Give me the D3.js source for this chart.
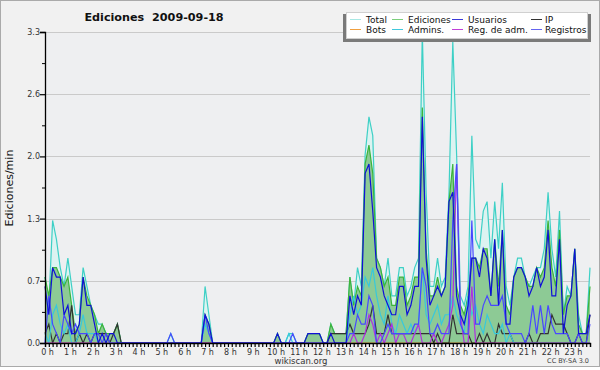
<!DOCTYPE html>
<html>
<head>
<meta charset="utf-8">
<script src="https://cdnjs.cloudflare.com/ajax/libs/d3/7.8.5/d3.min.js"></script>
<style>
body { margin: 0; background: #fff; }
svg { display: block; }
text { font-family: "DejaVu Sans", sans-serif; }
</style>
</head>
<body>
<div id="chart"></div>
<script>
// edits per minute, one value per 10 minutes (144 bins)
var total = [
  0.7,0.4,1.3,1.1,0.8,0.6, 0.9,0.6,0.3,0.3,0.8,0.6, 0.4,0.3,0.2,0.2,0.1,0.1, 0.1,0.2,0,0,0,0,
  0,0,0,0,0,0, 0,0,0,0.1,0,0, 0,0,0,0,0,0, 0.6,0.3,0,0,0,0,
  0,0,0,0,0,0, 0,0,0,0,0,0, 0,0.1,0,0,0.1,0.1, 0,0,0,0.1,0.1,0.1,
  0.1,0,0,0.2,0.1,0.1, 0.1,0.1,0.7,0.4,0.8,0.6, 2.0,2.4,2.2,0.9,0.8,0.6, 0.9,0.5,0.5,0.8,0.8,0.5,
  0.6,0.8,0.9,3.3,1.6,0.6, 0.6,0.9,0.6,0.7,1.6,3.2, 2.0,0.5,0.4,0.6,2.2,1.1, 1.0,1.4,1.5,0.9,1.5,1.0,
  1.7,0.6,0.4,0.7,0.9,0.9, 0.7,0.6,0.7,0.8,0.8,1.0, 1.6,1.0,0.7,1.4,0.3,0.6, 0.5,1.0,0.3,0.1,0.1,0.8
];
var ediciones = [
  0.7,0.5,0.8,0.8,0.7,0.6, 0.7,0.4,0.1,0.2,0.7,0.5, 0.4,0.3,0.1,0.2,0.1,0.1, 0.1,0.2,0,0,0,0,
  0,0,0,0,0,0, 0,0,0,0,0,0, 0,0,0,0,0,0, 0.3,0.2,0,0,0,0,
  0,0,0,0,0,0, 0,0,0,0,0,0, 0,0.1,0,0,0,0, 0,0,0,0.1,0.1,0.1,
  0.1,0,0,0.2,0.1,0.1, 0.1,0.1,0.7,0.4,0.6,0.5, 1.9,2.1,1.8,0.9,0.8,0.6, 0.7,0.4,0.4,0.7,0.7,0.4,
  0.5,0.7,0.7,2.5,1.0,0.5, 0.5,0.7,0.5,0.6,1.5,1.9, 0.6,0.4,0.3,0.5,0.9,0.9, 0.8,1.0,1.0,0.5,1.1,0.6,
  1.2,0.4,0.3,0.7,0.8,0.8, 0.7,0.6,0.6,0.8,0.7,0.8, 1.3,0.8,0.6,1.2,0.3,0.5, 0.5,1.0,0.2,0.1,0.1,0.6
];
var usuarios = [
  0.6,0.3,0.8,0.7,0.7,0.3, 0.4,0.1,0.1,0.2,0.7,0.4, 0.4,0.2,0,0.1,0,0.1, 0.1,0,0,0,0,0,
  0,0,0,0,0,0, 0,0,0,0,0,0, 0,0,0,0,0,0, 0.3,0.2,0,0,0,0,
  0,0,0,0,0,0, 0,0,0,0,0,0, 0,0.1,0,0,0,0, 0,0,0,0.1,0.1,0.1,
  0.1,0,0,0.1,0,0, 0,0,0.5,0.3,0.5,0.4, 1.8,1.9,1.4,0.8,0.7,0.5, 0.4,0.3,0.3,0.6,0.6,0.3,
  0.4,0.6,0.6,2.4,0.9,0.4, 0.5,0.6,0.5,0.6,1.5,1.6, 0.5,0.3,0.2,0.4,0.9,0.9, 0.7,1.0,0.9,0.5,1.1,0.4,
  1.2,0.2,0.2,0.7,0.8,0.8, 0.7,0.5,0.6,0.8,0.6,0.7, 1.2,0.5,0.5,1.1,0.1,0.4, 0.5,1.0,0.1,0.1,0.1,0.3
];
var ip = [
  0.1,0.2,0,0.1,0,0.1, 0.1,0.4,0,0.1,0,0.1, 0,0.1,0.1,0.1,0.1,0, 0.1,0.2,0,0,0,0,
  0,0,0,0,0,0, 0,0,0,0,0,0, 0,0,0,0,0,0, 0,0,0,0,0,0,
  0,0,0,0,0,0, 0,0,0,0,0,0, 0,0,0,0,0,0, 0,0,0,0,0,0,
  0,0,0,0.1,0.1,0.1, 0.1,0.1,0.2,0.1,0.1,0.1, 0.1,0.2,0.4,0.1,0.1,0.1, 0.3,0.1,0.1,0.1,0.1,0.1,
  0.1,0.1,0.1,0.1,0.1,0.1, 0,0.1,0,0,0,0.3, 0.1,0.1,0.1,0.1,0,0, 0.1,0,0.1,0,0,0.2,
  0.1,0.1,0.1,0,0,0, 0,0.1,0,0,0.1,0.1, 0.1,0.3,0.2,0.2,0.2,0.1, 0,0,0.1,0,0,0.3
];
var bots = d3.range(144).map(function() { return 0; });
var admins = [
  0.1,0,0.3,0.4,0.2,0.1, 0.2,0,0,0.1,0.3,0.1, 0.1,0.1,0,0,0,0, 0,0,0,0,0,0,
  0,0,0,0,0,0, 0,0,0,0,0,0, 0,0,0,0,0,0, 0.2,0.1,0,0,0,0,
  0,0,0,0,0,0, 0,0,0,0,0,0, 0,0,0,0,0.1,0, 0,0,0,0,0,0,
  0,0,0,0,0,0, 0,0,0.3,0.5,0.3,0.4, 0.7,0.6,0.8,0.5,0.3,0.2, 0.5,0.2,0.1,0.3,0.2,0.1,
  0.2,0.1,0.2,0.8,0.3,0.2, 0.3,0.4,0.2,0.3,0.3,0.5, 0.3,0.2,0.1,0.5,0.3,0.4, 0.2,0.1,0.3,0.2,0.1,0.1,
  0.2,0,0.1,0,0,0, 0,0,0,0,0,0, 0,0,0,0,0,0, 0,0,0,0,0,0
];
var regAdm = [
  0,0,0,0,0,0, 0,0,0,0,0,0, 0,0,0,0,0,0, 0,0,0,0,0,0,
  0,0,0,0,0,0, 0,0,0,0,0,0, 0,0,0,0,0,0, 0,0,0,0,0,0,
  0,0,0,0,0,0, 0,0,0,0,0,0, 0,0,0,0,0,0, 0,0,0,0,0,0,
  0,0,0,0,0,0, 0,0,0,0.1,0,0, 0.1,0.3,0.2,0,0.1,0, 0.1,0.2,0,0.1,0.1,0,
  0,0.1,0.2,0,0,0, 0.1,0,0,0.1,0.2,0.4, 1.9,0.3,0,0,0.6,0, 0,0,0,0,0,0,
  0,0,0,0,0,0, 0,0,0,0,0,0, 0,0,0,0,0,0, 0,0,0,0,0,0
];
var registros = [
  0,0.5,0.2,0.1,0,0.3, 0.2,0.1,0.2,0.1,0.1,0.1, 0,0.1,0.1,0,0.1,0, 0,0,0,0,0,0,
  0,0,0,0,0,0, 0,0,0,0.1,0,0, 0,0,0,0,0,0, 0.3,0.1,0,0,0,0,
  0,0,0,0,0,0, 0,0,0,0,0,0, 0,0,0,0,0,0.1, 0,0,0,0,0,0,
  0,0,0,0,0,0, 0,0,0.1,0.1,0.3,0.2, 0.2,0.5,0.4,0,0,0.1, 0.2,0.1,0.1,0.1,0.1,0.1,
  0.1,0.2,0.2,0.8,0.6,0.1, 0.1,0.2,0.1,0.1,0.1,1.3, 1.9,0.2,0.1,0.1,1.3,0.2, 0.2,0.4,0.5,0.4,0.4,0.4,
  0.5,0.2,0.1,0.1,0.1,0.1, 0,0.1,0.4,0.1,0.4,0.1, 0.4,0.2,0.1,0.1,0.1,0.1, 0,0,0.1,0,0,0.2
];
var yTicks = [0, 0.66, 1.32, 1.98, 2.64, 3.3];
var legendNames = ["Total", "Ediciones", "Usuarios", "IP", "Bots", "Admins.", "Reg. de adm.", "Registros"];
var legendColors = ["#a8e8e4", "#7ccf7c", "#3a3ad8", "#333333", "#f0a040", "#40c8dc", "#c040d8", "#6464f0"];

var W = 600, H = 370;
var svg = d3.select("#chart").append("svg").attr("width", W).attr("height", H);

// frame
svg.append("rect").attr("x", 0.5).attr("y", 0.5).attr("width", W - 1).attr("height", 366)
    .attr("fill", "#f1f1f1").attr("stroke", "#aaaaaa");

var x = d3.scaleLinear().domain([0, 143]).range([45, 590]);
var y = d3.scaleLinear().domain([0, 3.3]).range([343, 32]);

// plot background and grid
svg.append("rect").attr("x", 45).attr("y", 32).attr("width", 545).attr("height", 311).attr("fill", "#eeeff1");
svg.append("g").selectAll("line").data(yTicks.slice(1)).join("line")
    .attr("x1", 45).attr("x2", 590)
    .attr("y1", function(d) { return Math.round(y(d)) + 0.5; })
    .attr("y2", function(d) { return Math.round(y(d)) + 0.5; })
    .attr("stroke", "#cacaca");

var area = d3.area().x(function(d, i) { return x(i); }).y0(y(0)).y1(function(d) { return y(d); });
var line = d3.line().x(function(d, i) { return x(i); }).y(function(d) { return y(d); });

svg.append("path").datum(total).attr("d", area).attr("fill", "#dcf3f1");
svg.append("path").datum(total).attr("d", line).attr("fill", "none").attr("stroke", "#3ed0c6").attr("stroke-width", 1.2);
svg.append("path").datum(ediciones).attr("d", area).attr("fill", "#8dca95");
svg.append("path").datum(ediciones).attr("d", line).attr("fill", "none").attr("stroke", "#3cb43c").attr("stroke-width", 1.2);

var extra = [
    [bots, "#f0a040"],
    [ip, "#333333"],
    [admins, "#38c8dc"],
    [regAdm, "#b030e0"],
    [registros, "#4848ff"],
    [usuarios, "#1010d8"]
];
extra.forEach(function(s) {
    svg.append("path").datum(s[0]).attr("d", line).attr("fill", "none")
        .attr("stroke", s[1]).attr("stroke-width", 1.2);
});

// axes
var yAxis = d3.axisLeft(y).tickValues(yTicks).tickSize(5).tickFormat(d3.format(".1f"));
var gy = svg.append("g").attr("transform", "translate(45,0)").call(yAxis);
var minor = yTicks.slice(1).map(function(d) { return d - 0.33; });
svg.append("g").attr("transform", "translate(45,0)")
    .call(d3.axisLeft(y).tickValues(minor).tickSize(3).tickFormat(""))
    .select(".domain").remove();

var xAxis = d3.axisBottom(x).tickValues(d3.range(0, 144)).tickSize(4).tickPadding(2)
    .tickFormat(function(d) { return d % 6 === 0 ? (d / 6) + " h" : ""; });
var gx = svg.append("g").attr("transform", "translate(0,343)").call(xAxis);

[gx, gy].forEach(function(g) {
    g.select(".domain").attr("stroke", "#000").attr("stroke-width", 1.3);
    g.selectAll(".tick line").attr("stroke", "#000").attr("stroke-width", 1.2);
    g.selectAll("text").attr("font-size", 8).attr("fill", "#333").style("font-family", "DejaVu Sans");
});
gy.selectAll(".tick text").attr("x", -5);
gx.selectAll(".tick text").attr("dx", 2);

// title and labels
svg.append("text").attr("x", 154).attr("y", 21).attr("text-anchor", "middle")
    .attr("font-size", 11.2).attr("font-weight", "bold").attr("fill", "#111").text("Ediciones  2009-09-18")
    .style("white-space", "pre");
svg.append("text").attr("transform", "translate(13,188) rotate(-90)").attr("text-anchor", "middle")
    .attr("font-size", 11).attr("fill", "#111").text("Ediciones/min");
svg.append("text").attr("x", 301).attr("y", 364).attr("text-anchor", "middle")
    .attr("font-size", 8.5).attr("fill", "#333").text("wikiscan.org");
svg.append("text").attr("x", 589).attr("y", 363).attr("text-anchor", "end")
    .attr("font-size", 6.5).attr("fill", "#444").text("CC BY-SA 3.0");

// legend
var lg = svg.append("g");
lg.append("rect").attr("x", 343).attr("y", 14).attr("width", 248).attr("height", 28).attr("fill", "#7a7a7a");
lg.append("rect").attr("x", 346.5).attr("y", 12.5).attr("width", 241).attr("height", 26)
    .attr("fill", "#fff").attr("stroke", "#d0d0d0");
var colX = [350, 392, 452, 531];
var rowY = [19.5, 29.5];
legendNames.forEach(function(name, i) {
    var cx = colX[i % 4], cy = rowY[Math.floor(i / 4)];
    lg.append("line").attr("x1", cx).attr("x2", cx + 11).attr("y1", cy).attr("y2", cy)
        .attr("stroke", legendColors[i]).attr("stroke-width", 1);
    lg.append("text").attr("x", cx + (i % 4 === 3 ? 14 : 16)).attr("y", cy + 3.5)
        .attr("font-size", 9).attr("fill", "#111").text(name);
});
</script>
</body>
</html>
